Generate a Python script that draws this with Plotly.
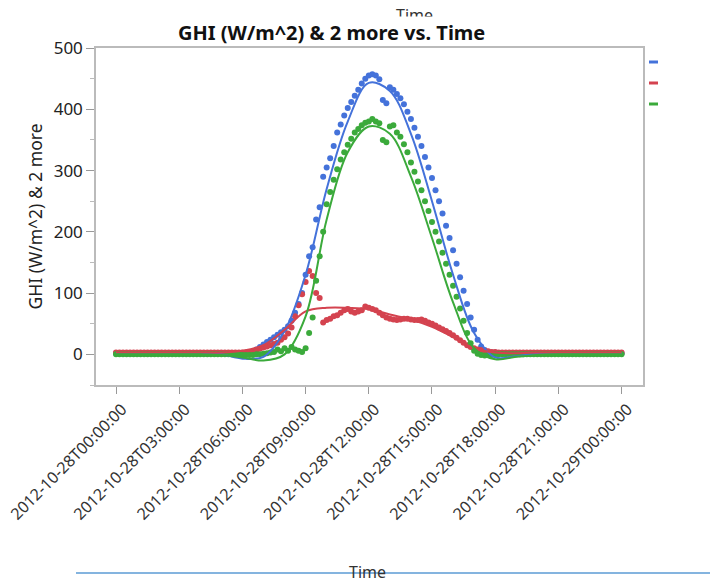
import pandas as pd
import plotly.graph_objects as go

# ---------------- data (10-minute readings, 2012-10-28 00:00 .. 2012-10-29 00:00) ----------------
start = "2012-10-28 00:00"
ghi = [
    2, 2, 2, 2, 2, 2, 2, 2, 2, 2, 2, 2,
    2, 2, 2, 2, 2, 2, 2, 2, 2, 2, 2, 2,
    2, 2, 2, 2, 2, 2, 2, 2, 2, 2, 2, 2,
    2, 2, 3, 5, 8, 12, 16, 20, 24, 28, 32, 36,
    40, 46, 55, 68, 82, 100, 130, 160, 175, 220, 240, 290,
    305, 320, 340, 362, 375, 390, 402, 412, 422, 432, 442, 450,
    455, 457, 455, 449, 415, 410, 436, 432, 425, 418, 408, 396,
    384, 370, 355, 340, 322, 305, 288, 268, 250, 230, 210, 190,
    170, 148, 126, 104, 82, 60, 40, 24, 13, 7, 4, 3,
    3, 2, 2, 2, 2, 2, 2, 2, 2, 2, 2, 2,
    2, 2, 2, 2, 2, 2, 2, 2, 2, 2, 2, 2,
    2, 2, 2, 2, 2, 2, 2, 2, 2, 2, 2, 2,
    2,
]
dhi = [
    3, 3, 3, 3, 3, 3, 3, 3, 3, 3, 3, 3,
    3, 3, 3, 3, 3, 3, 3, 3, 3, 3, 3, 3,
    3, 3, 3, 3, 3, 3, 3, 3, 3, 3, 3, 3,
    3, 3, 4, 5, 7, 9, 11, 13, 15, 17, 19, 24,
    28, 34, 44, 62, 80, 98, 118, 136, 128, 100, 92, 52,
    56, 58, 62, 64, 68, 72, 74, 70, 68, 70, 72, 78,
    76, 74, 72, 68, 64, 60, 58, 57, 56, 57, 58, 58,
    57, 56, 56, 57, 55, 52, 50, 47, 44, 41, 38, 35,
    31, 27, 23, 19, 15, 12, 10, 8, 7, 6, 5, 4,
    4, 3, 3, 3, 3, 3, 3, 3, 3, 3, 3, 3,
    3, 3, 3, 3, 3, 3, 3, 3, 3, 3, 3, 3,
    3, 3, 3, 3, 3, 3, 3, 3, 3, 3, 3, 3,
    3,
]
dni = [
    0, 0, 0, 0, 0, 0, 0, 0, 0, 0, 0, 0,
    0, 0, 0, 0, 0, 0, 0, 0, 0, 0, 0, 0,
    0, 0, 0, 0, 0, 0, 0, 0, 0, 0, 0, 0,
    -1, -1, -1, -1, 0, 0, 1, 2, 3, 4, 8, 5,
    10, 6, 12, 8, 6, 4, 10, 35, 60, 120, 160, 200,
    245, 265, 285, 302, 318, 330, 342, 352, 362, 368, 374, 378,
    380, 384, 380, 377, 350, 346, 372, 374, 362, 355, 343, 330,
    313, 298, 282, 268, 250, 234, 216, 200, 184, 166, 148, 130,
    112, 94, 75, 55, 35, 18, 6, 1, -1, -2, -1, -1,
    0, 0, 0, 0, 0, 0, 0, 0, 0, 0, 0, 0,
    0, 0, 0, 0, 0, 0, 0, 0, 0, 0, 0, 0,
    0, 0, 0, 0, 0, 0, 0, 0, 0, 0, 0, 0,
    0,
]
# smoother fits, hourly 00:00 .. 24:00
ghi_fit = [2, 2, 2, 2, 2, 0, -7, -4, 38, 130, 270, 380, 443, 430, 360, 250, 130, 35, -5, -3, 1, 2, 2, 2, 2]
dhi_fit = [3, 3, 3, 3, 3, 3, 6, 15, 40, 70, 76, 76, 74, 65, 57, 45, 28, 10, 3, 2, 3, 3, 3, 3, 3]
dni_fit = [0, 0, 0, 0, 0, -1, -5, -10, 0, 62, 220, 330, 372, 360, 290, 190, 85, 10, -8, -4, -1, 0, 0, 0, 0]

tick_text = [
    "2012-10-28T00:00:00", "2012-10-28T03:00:00", "2012-10-28T06:00:00",
    "2012-10-28T09:00:00", "2012-10-28T12:00:00", "2012-10-28T15:00:00",
    "2012-10-28T18:00:00", "2012-10-28T21:00:00", "2012-10-29T00:00:00",
]

BLUE = "#4472DA"
RED = "#D4434F"
GREEN = "#3BAA3B"

times = pd.date_range(start, periods=len(ghi), freq="10min")
fit_times = pd.date_range(start, periods=len(ghi_fit), freq="h")
tick_vals = pd.date_range(start, periods=len(tick_text), freq="3h")

fig = go.Figure()
for vals, col in [(ghi, BLUE), (dhi, RED), (dni, GREEN)]:
    fig.add_trace(go.Scatter(x=times, y=vals, mode="markers",
                             marker=dict(color=col, size=6, line=dict(width=0)),
                             showlegend=False, hoverinfo="skip"))
for fit, col in [(ghi_fit, BLUE), (dhi_fit, RED), (dni_fit, GREEN)]:
    fig.add_trace(go.Scatter(x=fit_times, y=fit, mode="lines",
                             line=dict(color=col, width=2, shape="spline", smoothing=1.0),
                             showlegend=False, hoverinfo="skip"))

W, H = 710, 584
L, R, T, B = 96, 67, 48, 199
pw, ph = W - L - R, H - T - B


def px(x):
    return (x - L) / pw


def py(y):
    return (H - B - y) / ph


FONT = "Noto Sans"
fig.update_layout(
    width=W, height=H,
    margin=dict(l=L, r=R, t=T, b=B, pad=0, autoexpand=False),
    paper_bgcolor="white", plot_bgcolor="white",
    font=dict(family=FONT, size=17, color="#222"),
    showlegend=False,
    xaxis=dict(
        range=["2012-10-27 23:03", "2012-10-29 01:01"],
        tickmode="array", tickvals=tick_vals, ticktext=tick_text,
        tickangle=-45, ticks="outside", ticklen=7, tickcolor="#999",
        tickfont=dict(size=16, color="#333"), ticklabeloverflow="allow",
        ticklabelshift=6,
        automargin=False,
        showline=True, linecolor="#bbb", linewidth=1.5, mirror=True,
        showgrid=False, zeroline=False,
    ),
    yaxis=dict(
        range=[-50, 500],
        tickmode="array", tickvals=[0, 100, 200, 300, 400, 500],
        ticks="outside", ticklen=8, tickcolor="#999",
        minor=dict(dtick=50, tick0=0, ticks="outside", ticklen=4, tickcolor="#bbb"),
        tickfont=dict(size=17, color="#222"),
        automargin=False,
        showline=True, linecolor="#bbb", linewidth=1.5, mirror=True,
        showgrid=False, zeroline=False,
        title=dict(text="GHI (W/m^2) & 2 more", font=dict(size=17.5, color="#222"), standoff=7),
    ),
)

annotations = [
    dict(text="Time", xref="paper", yref="paper", x=px(414), y=py(2), xanchor="center", yanchor="top",
         showarrow=False, font=dict(size=16, color="#333")),
    dict(text=" ", xref="paper", yref="paper", x=px(414), y=py(16), xanchor="center", yanchor="top",
         showarrow=False, width=70, height=14, bgcolor="white", borderpad=0),
    dict(text="<b>GHI (W/m^2) &amp; 2 more vs. Time</b>", xref="paper", yref="paper",
         x=px(331), y=py(33), xanchor="center", yanchor="middle",
         showarrow=False, font=dict(size=20, color="#111")),
    dict(text="Time", xref="paper", yref="paper", x=px(367), y=py(572), xanchor="center", yanchor="middle",
         showarrow=False, font=dict(size=16, color="#333")),
]
fig.update_layout(annotations=annotations)

shapes = [
    dict(type="line", xref="paper", yref="paper", x0=px(76), x1=px(710), y0=py(573), y1=py(573),
         line=dict(color="#5B9BD5", width=1.5)),
]
for yy, col in [(62, BLUE), (83, RED), (104, GREEN)]:
    shapes.append(dict(type="line", xref="paper", yref="paper", x0=px(649), x1=px(658),
                       y0=py(yy), y1=py(yy), line=dict(color=col, width=3)))
fig.update_layout(shapes=shapes)

fig.write_html("out.html")
